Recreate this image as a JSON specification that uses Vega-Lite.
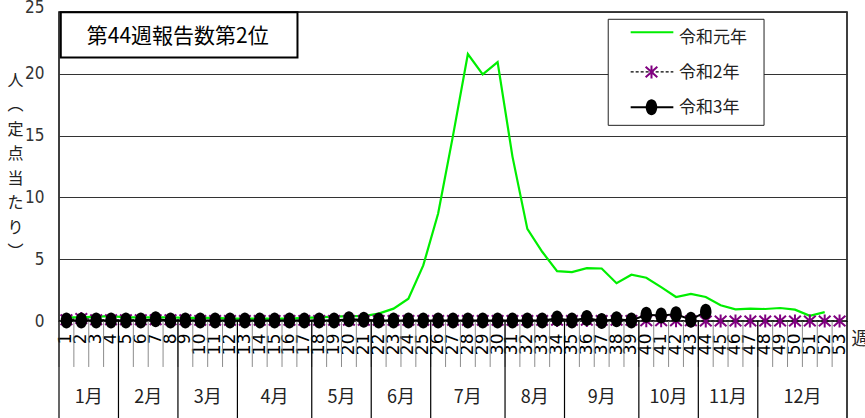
{
  "$schema": "https://vega.github.io/schema/vega-lite/v6.json",
  "width": 788,
  "height": 309,
  "autosize": {"type": "none"},
  "padding": {"left": 59, "top": 12, "right": 18, "bottom": 97},
  "background": "white",
  "config": {
    "view": {"stroke": "black", "strokeWidth": 1.5},
    "text": {"font": "Noto Sans CJK JP"}
  },
  "datasets": {
    "weeks": [
      {"week": 1, "month": "1月", "r1": 0.3, "r2": 0.1, "r3": 0.05},
      {"week": 2, "month": "1月", "r1": 0.3, "r2": 0.2, "r3": 0.05},
      {"week": 3, "month": "1月", "r1": 0.35, "r2": 0.1, "r3": 0.05},
      {"week": 4, "month": "1月", "r1": 0.4, "r2": 0.1, "r3": 0.05},
      {"week": 5, "month": "2月", "r1": 0.3, "r2": 0.1, "r3": 0.05},
      {"week": 6, "month": "2月", "r1": 0.3, "r2": 0.1, "r3": 0.05},
      {"week": 7, "month": "2月", "r1": 0.3, "r2": 0.1, "r3": 0.15},
      {"week": 8, "month": "2月", "r1": 0.3, "r2": 0.1, "r3": 0.05},
      {"week": 9, "month": "3月", "r1": 0.25, "r2": 0.1, "r3": 0.05},
      {"week": 10, "month": "3月", "r1": 0.25, "r2": 0.05, "r3": 0.05},
      {"week": 11, "month": "3月", "r1": 0.25, "r2": 0.05, "r3": 0.05},
      {"week": 12, "month": "3月", "r1": 0.2, "r2": 0.05, "r3": 0.05},
      {"week": 13, "month": "4月", "r1": 0.2, "r2": 0.05, "r3": 0.05},
      {"week": 14, "month": "4月", "r1": 0.2, "r2": 0.05, "r3": 0.05},
      {"week": 15, "month": "4月", "r1": 0.2, "r2": 0.05, "r3": 0.05},
      {"week": 16, "month": "4月", "r1": 0.2, "r2": 0.05, "r3": 0.05},
      {"week": 17, "month": "4月", "r1": 0.25, "r2": 0.05, "r3": 0.05},
      {"week": 18, "month": "5月", "r1": 0.3, "r2": 0.05, "r3": 0.05},
      {"week": 19, "month": "5月", "r1": 0.35, "r2": 0.05, "r3": 0.05},
      {"week": 20, "month": "5月", "r1": 0.4, "r2": 0.05, "r3": 0.15},
      {"week": 21, "month": "5月", "r1": 0.4, "r2": 0.05, "r3": 0.1},
      {"week": 22, "month": "6月", "r1": 0.6, "r2": 0.05, "r3": 0.05},
      {"week": 23, "month": "6月", "r1": 1.0, "r2": 0.05, "r3": 0.05},
      {"week": 24, "month": "6月", "r1": 1.8, "r2": 0.05, "r3": 0.05},
      {"week": 25, "month": "6月", "r1": 4.5, "r2": 0.05, "r3": 0.05},
      {"week": 26, "month": "7月", "r1": 8.7, "r2": 0.05, "r3": 0.05},
      {"week": 27, "month": "7月", "r1": 15.0, "r2": 0.05, "r3": 0.05},
      {"week": 28, "month": "7月", "r1": 21.6, "r2": 0.05, "r3": 0.05},
      {"week": 29, "month": "7月", "r1": 19.95, "r2": 0.05, "r3": 0.05},
      {"week": 30, "month": "7月", "r1": 20.95, "r2": 0.05, "r3": 0.05},
      {"week": 31, "month": "8月", "r1": 13.3, "r2": 0.05, "r3": 0.05},
      {"week": 32, "month": "8月", "r1": 7.45, "r2": 0.05, "r3": 0.05},
      {"week": 33, "month": "8月", "r1": 5.6, "r2": 0.05, "r3": 0.05},
      {"week": 34, "month": "8月", "r1": 4.03, "r2": 0.05, "r3": 0.2},
      {"week": 35, "month": "9月", "r1": 3.95, "r2": 0.05, "r3": 0.05},
      {"week": 36, "month": "9月", "r1": 4.27, "r2": 0.05, "r3": 0.25},
      {"week": 37, "month": "9月", "r1": 4.25, "r2": 0.05, "r3": 0.0},
      {"week": 38, "month": "9月", "r1": 3.06, "r2": 0.05, "r3": 0.15},
      {"week": 39, "month": "9月", "r1": 3.74, "r2": 0.05, "r3": 0.05},
      {"week": 40, "month": "10月", "r1": 3.5, "r2": 0.02, "r3": 0.5},
      {"week": 41, "month": "10月", "r1": 2.74, "r2": 0.02, "r3": 0.45},
      {"week": 42, "month": "10月", "r1": 1.94, "r2": 0.02, "r3": 0.55},
      {"week": 43, "month": "10月", "r1": 2.2, "r2": 0.02, "r3": 0.1},
      {"week": 44, "month": "11月", "r1": 1.94, "r2": 0.0, "r3": 0.75},
      {"week": 45, "month": "11月", "r1": 1.27, "r2": 0.0, "r3": null},
      {"week": 46, "month": "11月", "r1": 0.94, "r2": 0.0, "r3": null},
      {"week": 47, "month": "11月", "r1": 1.0, "r2": 0.0, "r3": null},
      {"week": 48, "month": "12月", "r1": 0.97, "r2": 0.0, "r3": null},
      {"week": 49, "month": "12月", "r1": 1.05, "r2": 0.0, "r3": null},
      {"week": 50, "month": "12月", "r1": 0.92, "r2": 0.0, "r3": null},
      {"week": 51, "month": "12月", "r1": 0.42, "r2": 0.0, "r3": null},
      {"week": 52, "month": "12月", "r1": 0.72, "r2": 0.0, "r3": null},
      {"week": 53, "month": "12月", "r1": null, "r2": 0.0, "r3": null}
    ]
  },
  "layer": [
    {
      "data": {"name": "weeks"},
      "layer": [
        {
          "mark": {"type": "line", "color": "#00ee00", "strokeWidth": 2.2},
          "encoding": {
            "x": {
              "field": "week", "type": "ordinal",
              "scale": {"type": "band", "paddingInner": 0, "paddingOuter": 0, "domain": [1,2,3,4,5,6,7,8,9,10,11,12,13,14,15,16,17,18,19,20,21,22,23,24,25,26,27,28,29,30,31,32,33,34,35,36,37,38,39,40,41,42,43,44,45,46,47,48,49,50,51,52,53]},
              "axis": {
                "title": null, "labelAngle": 270, "labelAlign": "right", "labelBaseline": "middle",
                "labelPadding": 12, "ticks": false, "domain": false, "grid": false,
                "labelFont": "DejaVu Sans", "labelFontSize": 17, "labelColor": "black", "labelOverlap": false
              }
            },
            "y": {
              "field": "r1", "type": "quantitative",
              "scale": {"domain": [0, 25], "nice": false},
              "axis": {
                "title": ["人", "︵", "定", "点", "当", "た", "り", "︶"],
                "titleAngle": 0, "titleAlign": "center", "titleBaseline": "alphabetic",
                "titleX": -44, "titleY": 73, "titleLineHeight": 24.5,
                "titleFont": "Noto Sans CJK JP", "titleFontSize": 16, "titleFontWeight": "normal", "titleColor": "#222",
                "values": [0, 5, 10, 15, 20, 25],
                "labelFont": "Liberation Sans Narrow, DejaVu Sans Condensed, Liberation Sans",
                "labelFontSize": 17, "labelColor": "#333", "labelPadding": 15,
                "labelBaseline": {"condition": {"test": "datum.value === 25", "value": "alphabetic"}, "value": "middle"},
                "ticks": false, "domain": false, "grid": true, "gridColor": "#333", "gridWidth": 1.2
              }
            }
          }
        },
        {
          "mark": {"type": "rule", "color": "#8c8c8c", "strokeWidth": 1},
          "encoding": {
            "x": {"field": "week", "type": "ordinal", "bandPosition": 0},
            "y": {"datum": 0, "type": "quantitative"},
            "y2": {"datum": -3.72}
          }
        },
        {
          "transform": [{"aggregate": [{"op": "min", "field": "week", "as": "week"}], "groupby": ["month"]}],
          "mark": {"type": "rule", "color": "black", "strokeWidth": 1.2},
          "encoding": {
            "x": {"field": "week", "type": "ordinal", "bandPosition": 0},
            "y": {"datum": 0, "type": "quantitative"},
            "y2": {"datum": -8}
          }
        },
        {
          "mark": {"type": "line", "color": "black", "strokeWidth": 1.2, "strokeDash": [3, 2]},
          "encoding": {
            "x": {"field": "week", "type": "ordinal"},
            "y": {"field": "r2", "type": "quantitative"}
          }
        },
        {
          "mark": {"type": "point", "shape": "M0,-1L0,1M-0.9,-0.8L0.9,0.8M-0.9,0.8L0.9,-0.8", "filled": false, "color": "#800080", "strokeWidth": 2, "size": 169, "opacity": 1},
          "encoding": {
            "x": {"field": "week", "type": "ordinal"},
            "y": {"field": "r2", "type": "quantitative"}
          }
        },
        {
          "mark": {"type": "line", "color": "black", "strokeWidth": 2},
          "encoding": {
            "x": {"field": "week", "type": "ordinal"},
            "y": {"field": "r3", "type": "quantitative"}
          }
        },
        {
          "mark": {"type": "point", "shape": "M0,-1A0.72,1,0,1,1,0,1A0.72,1,0,1,1,0,-1Z", "filled": true, "color": "black", "size": 256, "opacity": 1},
          "encoding": {
            "x": {"field": "week", "type": "ordinal"},
            "y": {"field": "r3", "type": "quantitative"}
          }
        }
      ]
    },
    {
      "layer": [
        {
          "data": {"name": "weeks"},
          "transform": [{"aggregate": [{"op": "mean", "field": "week", "as": "mid"}], "groupby": ["month"]}],
          "mark": {"type": "text", "fontSize": 18, "color": "#222", "baseline": "middle", "align": "center"},
          "encoding": {
            "x": {"field": "mid", "type": "quantitative", "scale": {"domain": [0.5, 53.5], "nice": false, "zero": false}, "axis": null},
            "y": {"datum": -6.25, "type": "quantitative"},
            "text": {"field": "month"}
          }
        },
        {
          "data": {"values": [{}]},
          "mark": {"type": "rule", "color": "black", "strokeWidth": 1.5},
          "encoding": {
            "x": {"datum": 53.5, "type": "quantitative"},
            "y": {"datum": 0, "type": "quantitative"},
            "y2": {"datum": -8}
          }
        },
        {
          "data": {"values": [{}]},
          "mark": {"type": "text", "fontSize": 18, "color": "#222", "baseline": "middle", "align": "center", "text": "週"},
          "encoding": {
            "x": {"datum": 54.41, "type": "quantitative"},
            "y": {"datum": -1.56, "type": "quantitative"}
          }
        },
        {
          "data": {"values": [{}]},
          "mark": {"type": "rect", "fill": "white", "stroke": "black", "strokeWidth": 2},
          "encoding": {
            "x": {"datum": 0.62, "type": "quantitative"},
            "x2": {"datum": 16.54},
            "y": {"datum": 24.97, "type": "quantitative"},
            "y2": {"datum": 21.31}
          }
        },
        {
          "data": {"values": [{}]},
          "mark": {"type": "text", "fontSize": 21, "color": "black", "baseline": "middle", "align": "center", "text": "第44週報告数第2位"},
          "encoding": {
            "x": {"datum": 8.49, "type": "quantitative"},
            "y": {"datum": 22.98, "type": "quantitative"}
          }
        },
        {
          "data": {"values": [{}]},
          "mark": {"type": "rect", "fill": "white", "stroke": "#222", "strokeWidth": 1},
          "encoding": {
            "x": {"datum": 37.44, "type": "quantitative"},
            "x2": {"datum": 47.92},
            "y": {"datum": 24.41, "type": "quantitative"},
            "y2": {"datum": 15.83}
          }
        },
        {
          "data": {"values": [{}]},
          "mark": {"type": "rule", "color": "#00ee00", "strokeWidth": 2.2},
          "encoding": {
            "x": {"datum": 38.95, "type": "quantitative"},
            "x2": {"datum": 41.82},
            "y": {"datum": 23.36, "type": "quantitative"}
          }
        },
        {
          "data": {"values": [{}]},
          "mark": {"type": "rule", "color": "black", "strokeWidth": 1.2, "strokeDash": [3, 2]},
          "encoding": {
            "x": {"datum": 38.95, "type": "quantitative"},
            "x2": {"datum": 41.82},
            "y": {"datum": 20.15, "type": "quantitative"}
          }
        },
        {
          "data": {"values": [{}]},
          "mark": {"type": "point", "shape": "M0,-1L0,1M-0.9,-0.8L0.9,0.8M-0.9,0.8L0.9,-0.8", "filled": false, "color": "#800080", "strokeWidth": 2, "size": 169, "opacity": 1},
          "encoding": {
            "x": {"datum": 40.35, "type": "quantitative"},
            "y": {"datum": 20.15, "type": "quantitative"}
          }
        },
        {
          "data": {"values": [{}]},
          "mark": {"type": "rule", "color": "black", "strokeWidth": 2},
          "encoding": {
            "x": {"datum": 38.95, "type": "quantitative"},
            "x2": {"datum": 41.82},
            "y": {"datum": 17.29, "type": "quantitative"}
          }
        },
        {
          "data": {"values": [{}]},
          "mark": {"type": "point", "shape": "M0,-1A0.72,1,0,1,1,0,1A0.72,1,0,1,1,0,-1Z", "filled": true, "color": "black", "size": 256, "opacity": 1},
          "encoding": {
            "x": {"datum": 40.35, "type": "quantitative"},
            "y": {"datum": 17.29, "type": "quantitative"}
          }
        },
        {
          "data": {"values": [{}]},
          "mark": {"type": "text", "fontSize": 17, "color": "#222", "baseline": "middle", "align": "left", "text": "令和元年"},
          "encoding": {
            "x": {"datum": 42.2, "type": "quantitative"},
            "y": {"datum": 22.91, "type": "quantitative"}
          }
        },
        {
          "data": {"values": [{}]},
          "mark": {"type": "text", "fontSize": 17, "color": "#222", "baseline": "middle", "align": "left", "text": "令和2年"},
          "encoding": {
            "x": {"datum": 42.2, "type": "quantitative"},
            "y": {"datum": 20.04, "type": "quantitative"}
          }
        },
        {
          "data": {"values": [{}]},
          "mark": {"type": "text", "fontSize": 17, "color": "#222", "baseline": "middle", "align": "left", "text": "令和3年"},
          "encoding": {
            "x": {"datum": 42.2, "type": "quantitative"},
            "y": {"datum": 17.25, "type": "quantitative"}
          }
        }
      ]
    }
  ],
  "resolve": {"scale": {"x": "independent"}, "axis": {"x": "independent"}}
}
